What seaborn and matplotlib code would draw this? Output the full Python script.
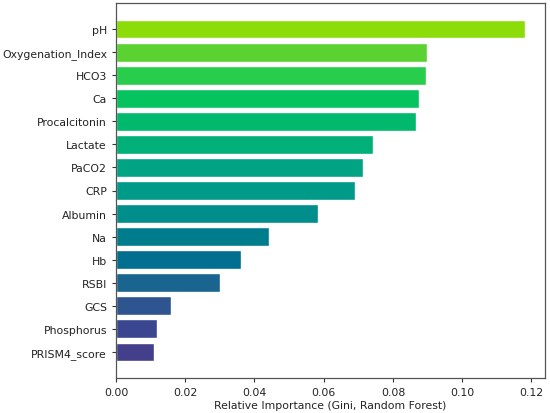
import pandas as pd
import matplotlib
matplotlib.use('Agg')
import matplotlib.pyplot as plt
import seaborn as sns

# Feature importances
features = ['pH', 'Oxygenation_Index', 'HCO3', 'Ca', 'Procalcitonin', 'Lactate',
            'PaCO2', 'CRP', 'Albumin', 'Na', 'Hb', 'RSBI', 'GCS', 'Phosphorus',
            'PRISM4_score']
importance = [0.118, 0.0899, 0.0896, 0.0876, 0.0867, 0.0743, 0.0714, 0.0691,
              0.0584, 0.0441, 0.0361, 0.0301, 0.0159, 0.0119, 0.0111]

bar_colors = ['#8cdc0a', '#5ad232', '#28cd4b', '#05c45f', '#00b96c', '#00b078',
              '#00a383', '#009a88', '#008e8c', '#007d8c', '#006e8e', '#1a6490',
              '#2e5590', '#3a4690', '#433f8a']


def create_plot():
    data = pd.DataFrame({'feature': features, 'importance': importance})

    sns.set_style('white')
    plt.rcParams['font.family'] = ['DejaVu Sans']

    fig, ax = plt.subplots(figsize=(5.5, 4.14), dpi=100)
    sns.barplot(x='importance', y='feature', hue='feature', data=data,
                palette=bar_colors, legend=False, width=0.8, saturation=1,
                ax=ax)

    n = len(features)
    pad = 0.05 * (n - 1 + 0.8)
    ax.set_ylim(n - 1 + 0.4 + pad, -0.4 - pad)
    ax.set_xlim(0, max(importance) * 1.05)
    ax.set_xticks([0.0, 0.02, 0.04, 0.06, 0.08, 0.10, 0.12])
    ax.set_xticklabels(['0.00', '0.02', '0.04', '0.06', '0.08', '0.10', '0.12'])

    ax.set_xlabel('Relative Importance (Gini, Random Forest)', fontsize=7.8,
                  labelpad=2, color='#222222')
    ax.set_ylabel('')
    ax.tick_params(axis='both', labelsize=7.8, length=3, width=0.8,
                   color='#333333', labelcolor='#222222', direction='out',
                   bottom=True, left=True)
    for spine in ax.spines.values():
        spine.set_visible(True)
        spine.set_color('#555555')
        spine.set_linewidth(0.9)

    fig.subplots_adjust(left=116 / 550, right=545 / 550,
                        top=1 - 4 / 414, bottom=1 - 379 / 414)
    fig.savefig('out.png', dpi=100)
    plt.close(fig)


if __name__ == "__main__":
    create_plot()
